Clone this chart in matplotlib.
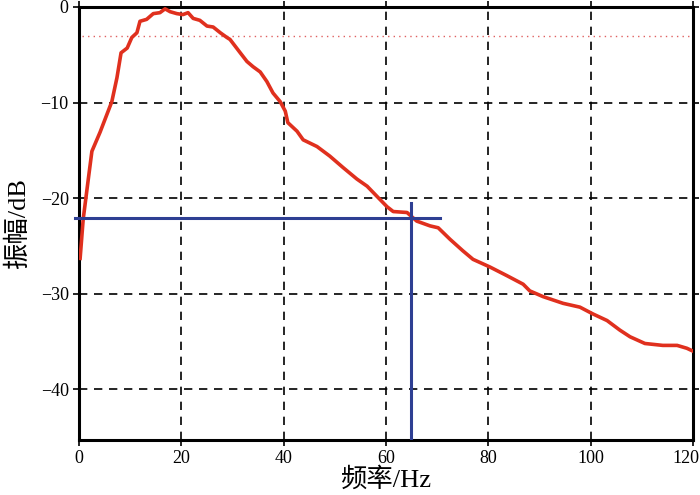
import numpy as np
import matplotlib
matplotlib.use("Agg")
import matplotlib.pyplot as plt
from matplotlib.transforms import ScaledTranslation

# ==========================
# Data
# ==========================

freq = [0.2, 0.8, 1.8, 2.5, 4.1, 6.4, 7.4, 8.2, 9.4, 10.3, 11.3, 11.9, 13.2,
        14.5, 15.8, 16.8, 17.8, 19.1, 20.3, 21.3, 22.3, 23.6, 25.0, 26.2,
        27.6, 28.9, 29.5, 31.5, 32.8, 34.0, 35.4, 36.7, 37.9, 39.3, 40.3,
        40.8, 42.6, 43.8, 46.5, 49.0, 51.6, 54.3, 56.3, 58.2, 60.2, 61.4,
        64.1, 66.0, 68.6, 70.2, 72.5, 75.0, 77.0, 80.3, 83.6, 86.8, 88.1,
        90.7, 94.6, 97.9, 100.4, 103.2, 105.7, 107.7, 110.6, 114.1, 116.9,
        118.8, 120.0]
amp = [-26.3, -22.2, -18.0, -15.1, -13.1, -9.9, -7.4, -4.8, -4.3, -3.2, -2.7,
       -1.5, -1.3, -0.7, -0.6, -0.2, -0.5, -0.7, -0.8, -0.6, -1.2, -1.4, -2.0,
       -2.1, -2.7, -3.2, -3.4, -4.8, -5.7, -6.25, -6.8, -7.8, -9.0, -9.9,
       -10.9, -12.1, -13.0, -13.9, -14.6, -15.6, -16.8, -18.0, -18.75, -19.8,
       -20.9, -21.4, -21.5, -22.4, -22.9, -23.1, -24.3, -25.5, -26.4, -27.2,
       -28.1, -29.0, -29.7, -30.3, -31.0, -31.4, -32.1, -32.8, -33.8, -34.5,
       -35.2, -35.4, -35.4, -35.7, -36.0]

cut_level = -3        # red dotted -3 dB line
marker_amp = -22.1    # blue horizontal
marker_freq = 64.9    # blue vertical

x_ticks = [0, 20, 40, 60, 80, 100, 120]
y_ticks = [0, -10, -20, -30, -40]

# ==========================
# Plot
# ==========================

fonts = ["Liberation Serif", "Noto Sans CJK SC"]
plt.rcParams["font.family"] = fonts
plt.rcParams["axes.unicode_minus"] = True

fig = plt.figure(figsize=(7, 4.95), dpi=100)
ax = fig.add_axes([0.113, 0.111, 0.877, 0.875])

ax.set_xlim(0, 120)
ax.set_ylim(-45.3, 0)

ax.grid(True, color="black", linestyle=(0, (5, 4)), linewidth=1.2)
ax.set_axisbelow(True)

ax.axhline(cut_level, xmin=0.005, xmax=1, color="#e06060",
           linestyle=(0, (1, 3)), linewidth=1)

ax.plot(freq, amp, color="#e0301e", linewidth=2.6, zorder=3)

ax.plot([-0.8, 70.5], [marker_amp, marker_amp], color="#2e3f93",
        linewidth=2.2, clip_on=False, zorder=4)
ax.plot([marker_freq, marker_freq], [-20.5, -45.3], color="#2e3f93",
        linewidth=2.2, zorder=4)

ax.set_xticks(x_ticks)
ax.set_yticks(y_ticks)
ax.tick_params(direction="out", length=4, width=1.2, labelsize=13,
               top=True, right=True)

# keep the last x label inside the figure
last = ax.get_xticklabels()[-1]
last.set_transform(last.get_transform() + ScaledTranslation(-0.07, 0, fig.dpi_scale_trans))

for s in ax.spines.values():
    s.set_linewidth(2.2)

ax.set_xlabel("频率/Hz", fontsize=19, labelpad=0)
ax.set_ylabel("振幅/dB", fontsize=19, labelpad=8)

fig.savefig("out.png", dpi=100)
